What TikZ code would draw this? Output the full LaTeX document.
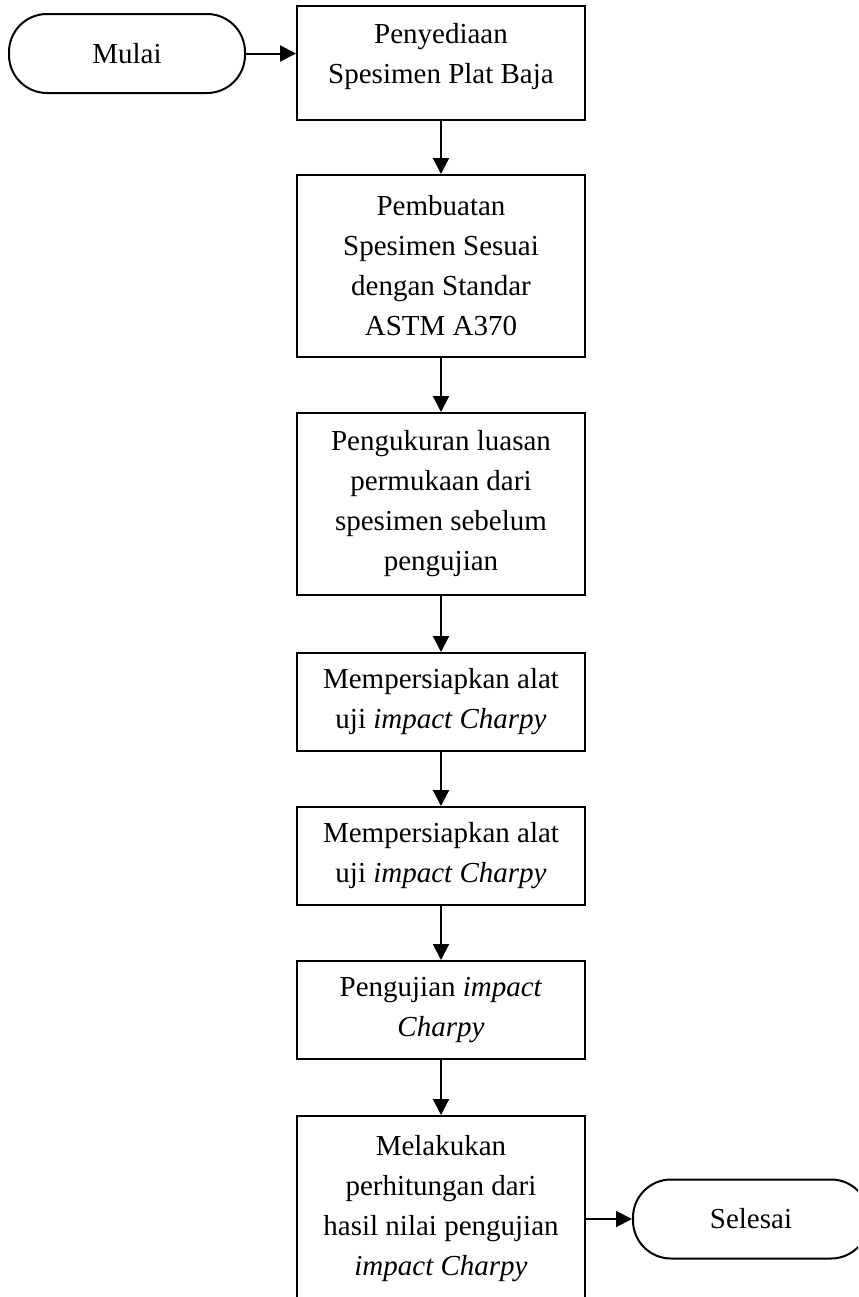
\documentclass[tikz,border=0pt]{standalone}
\usepackage{fontspec}
\setmainfont{Liberation Serif}
\usetikzlibrary{arrows.meta}
\tikzset{
  flowtext/.style={font=\fontsize{14.5pt}{20pt}\selectfont, align=center},
  terminal/.style={flowtext, draw, line width=1pt, rounded corners=19pt, minimum width=118pt, minimum height=39.5pt},
  procbox/.style={flowtext, draw, line width=1pt, minimum width=144pt, inner sep=0pt},
  flowarrow/.style={line width=1pt, -{Triangle[length=8pt,width=8pt]}}
}
\begin{document}
\begin{tikzpicture}[x=0.5pt, y=-0.5pt]
		%%%%% FRAME %%%%%
		\useasboundingbox (0,0) rectangle (858,1297);
		\clip (0,0) rectangle (858,1297);
		
		%%%%% STEPS %%%%%
		\node[terminal] (mulai) at (127,53.5) {Mulai};
		\node[procbox, minimum height=57pt] (sedia) at (441,63) {Penyediaan\\Spesimen Plat Baja\rule[-10pt]{0pt}{10pt}};
		\node[procbox, minimum height=91pt] (buat) at (441,266) {Pembuatan\\Spesimen Sesuai\\dengan Standar\\ASTM A370};
		\node[procbox, minimum height=91pt] (ukur) at (441,504) {Pengukuran luasan\\permukaan dari\\spesimen sebelum\\pengujian};
		\node[procbox, minimum height=49pt] (siapa) at (441,702) {Mempersiapkan alat\\uji \textit{impact Charpy}};
		\node[procbox, minimum height=49pt] (siapb) at (441,856) {Mempersiapkan alat\\uji \textit{impact Charpy}};
		\node[procbox, minimum height=49pt] (uji) at (441,1010) {Pengujian \textit{impact}\\\textit{Charpy}};
		\node[procbox, minimum height=93pt] (hitung) at (441,1209) {Melakukan\\perhitungan dari\\hasil nilai pengujian\\\textit{impact Charpy}};
		\node[terminal] (selesai) at (751,1219) {Selesai};
		
		%%%%% ARROWS %%%%%
		\draw[flowarrow] (mulai.east) -- (mulai.east -| sedia.west);
		\draw[flowarrow] (sedia) -- (buat);
		\draw[flowarrow] (buat) -- (ukur);
		\draw[flowarrow] (ukur) -- (siapa);
		\draw[flowarrow] (siapa) -- (siapb);
		\draw[flowarrow] (siapb) -- (uji);
		\draw[flowarrow] (uji) -- (hitung);
		\draw[flowarrow] (selesai.west -| hitung.east) -- (selesai.west);
\end{tikzpicture}
\end{document}
